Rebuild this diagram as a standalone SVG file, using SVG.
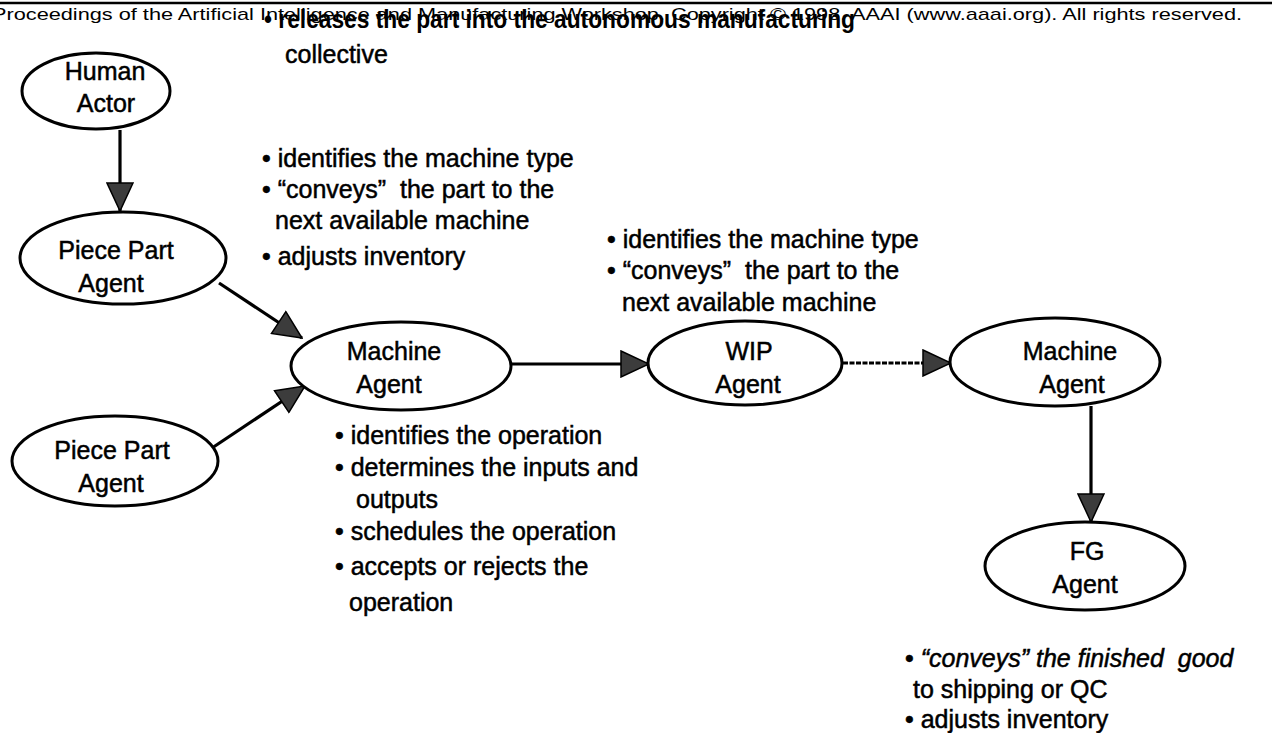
<svg xmlns="http://www.w3.org/2000/svg" width="1272" height="733" viewBox="0 0 1272 733">
<defs>
<style>
text{font-family:"Liberation Sans",Arial,Helvetica,sans-serif;fill:#000}
.hdr{font-size:17px}
.lbl{font-size:25px;text-anchor:middle;stroke:#000;stroke-width:0.5}
.bul{font-size:25px;stroke:#000;stroke-width:0.5}
.node ellipse{fill:#fff;stroke:#000;stroke-width:3}
.edge{stroke:#000;stroke-width:3.2;fill:none;marker-end:url(#ah)}
</style>
<marker id="ah" viewBox="0 0 30 28" refX="29" refY="14" markerWidth="30" markerHeight="28" markerUnits="userSpaceOnUse" orient="auto">
<path d="M1,1 L29,14 L1,27 Z" fill="#3c3c3c" stroke="#000" stroke-width="1.5"/>
</marker>
</defs>
<rect width="1272" height="733" fill="#fff"/>
<line x1="0" y1="3" x2="1272" y2="3" stroke="#000" stroke-width="2.5"/>
<text class="hdr" x="-8" y="20" textLength="1250" lengthAdjust="spacingAndGlyphs">Proceedings of the Artificial Intelligence and Manufacturing Workshop. Copyright © 1998, AAAI (www.aaai.org). All rights reserved.</text>

<g id="edges">
<line class="edge" x1="120" y1="130" x2="120" y2="211"/>
<line class="edge" x1="219" y1="283" x2="302" y2="338"/>
<line class="edge" x1="212" y1="448" x2="305" y2="386"/>
<line class="edge" x1="511" y1="364" x2="649" y2="364"/>
<line class="edge" x1="843" y1="363" x2="951" y2="363" stroke-dasharray="5 1.5"/>
<line class="edge" x1="1091" y1="406" x2="1091" y2="522"/>
</g>

<g id="human-actor" class="node">
<ellipse cx="96" cy="91" rx="74" ry="38"/>
<text class="lbl" x="105" y="80">Human</text>
<text class="lbl" x="106" y="112">Actor</text>
</g>
<g id="piece-part-1" class="node">
<ellipse cx="123" cy="258" rx="103" ry="46"/>
<text class="lbl" x="116" y="259">Piece Part</text>
<text class="lbl" x="111" y="292">Agent</text>
</g>
<g id="piece-part-2" class="node">
<ellipse cx="115" cy="461" rx="103" ry="45"/>
<text class="lbl" x="112" y="459">Piece Part</text>
<text class="lbl" x="111" y="492">Agent</text>
</g>
<g id="machine-1" class="node">
<ellipse cx="401" cy="366" rx="110" ry="44"/>
<text class="lbl" x="394" y="360">Machine</text>
<text class="lbl" x="389" y="393">Agent</text>
</g>
<g id="wip" class="node">
<ellipse cx="745" cy="363" rx="97" ry="42"/>
<text class="lbl" x="749" y="360">WIP</text>
<text class="lbl" x="748" y="393">Agent</text>
</g>
<g id="machine-2" class="node">
<ellipse cx="1055" cy="362" rx="105" ry="44"/>
<text class="lbl" x="1070" y="360">Machine</text>
<text class="lbl" x="1072" y="393">Agent</text>
</g>
<g id="fg" class="node">
<ellipse cx="1085" cy="566" rx="100" ry="44"/>
<text class="lbl" x="1087" y="560">FG</text>
<text class="lbl" x="1085" y="593">Agent</text>
</g>

<g id="notes-human">
<text x="264" y="28" font-size="26" font-weight="bold" textLength="591" lengthAdjust="spacingAndGlyphs">• releases the part into the autonomous manufacturing</text>
<text class="bul" x="285" y="63">collective</text>
</g>
<g id="notes-piece-part">
<text class="bul" x="262" y="167">• identifies the machine type</text>
<text class="bul" x="262" y="198">• “conveys”&#160; the part to the</text>
<text class="bul" x="275" y="229">next available machine</text>
<text class="bul" x="262" y="265">• adjusts inventory</text>
</g>
<g id="notes-wip">
<text class="bul" x="607" y="248">• identifies the machine type</text>
<text class="bul" x="607" y="279">• “conveys”&#160; the part to the</text>
<text class="bul" x="622" y="311">next available machine</text>
</g>
<g id="notes-machine">
<text class="bul" x="335" y="444">• identifies the operation</text>
<text class="bul" x="335" y="476">• determines the inputs and</text>
<text class="bul" x="356" y="508">outputs</text>
<text class="bul" x="335" y="540">• schedules the operation</text>
<text class="bul" x="335" y="575">• accepts or rejects the</text>
<text class="bul" x="349" y="611">operation</text>
</g>
<g id="notes-fg">
<text class="bul" x="905" y="667">• <tspan font-style="italic">“conveys” the finished&#160; good</tspan></text>
<text class="bul" x="913" y="698">to shipping or QC</text>
<text class="bul" x="905" y="728">• adjusts inventory</text>
</g>
</svg>
